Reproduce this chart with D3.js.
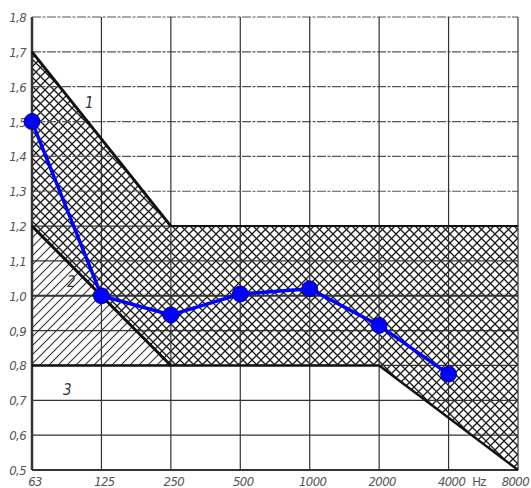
<!DOCTYPE html>
<html>
<head>
<meta charset="utf-8">
<script src="https://cdn.jsdelivr.net/npm/d3@7"></script>
<style>
  html, body { margin: 0; padding: 0; background: #fff; }
  svg { display: block; }
  .tick-label { font-family: "DejaVu Sans Condensed", "DejaVu Sans", sans-serif; font-style: italic; font-size: 13px; fill: #555; letter-spacing: -0.6px; }
  .curve-label { font-family: "DejaVu Sans Condensed", "DejaVu Sans", sans-serif; font-style: italic; font-size: 15px; fill: #333; }
</style>
</head>
<body>
<svg id="chart" width="531" height="488"></svg>
<script>
// Octave-band centre frequencies (Hz)
const frequencies = ["63", "125", "250", "500", "1000", "2000", "4000", "8000"];
// Vertical axis ticks
const yTicks = [0.5, 0.6, 0.7, 0.8, 0.9, 1.0, 1.1, 1.2, 1.3, 1.4, 1.5, 1.6, 1.7, 1.8];

// Measured curve
const measuredFreqs = ["63", "125", "250", "500", "1000", "2000", "4000"];
const measuredValues = [1.50, 1.00, 0.945, 1.005, 1.02, 0.915, 0.775];

// Boundary 1 (upper limit)
const upperFreqs = ["63", "250", "8000"];
const upperValues = [1.7, 1.2, 1.2];
// Boundary 2 (lower limit of the tolerance band)
const lowerFreqs = ["63", "250", "2000", "8000"];
const lowerValues = [1.2, 0.8, 0.8, 0.5];
// Boundary 3 (horizontal limit)
const line3Freqs = ["63", "2000"];
const line3Values = [0.8, 0.8];

const svg = d3.select("#chart");
const x = d3.scalePoint().domain(frequencies).range([32, 518]);
const y = d3.scaleLinear().domain([0.5, 1.8]).range([470, 17]);

const defs = svg.append("defs");
// Cross hatching
const cross = defs.append("pattern").attr("id", "cross").attr("patternUnits", "userSpaceOnUse")
  .attr("width", 9).attr("height", 9);
cross.append("path").attr("d", "M-2,2 L2,-2 M0,9 L9,0 M7,11 L11,7").attr("stroke", "#1a1a1a").attr("stroke-width", 1.3);
cross.append("path").attr("d", "M-2,7 L2,11 M0,0 L9,9 M7,-2 L11,2").attr("stroke", "#1a1a1a").attr("stroke-width", 1.3);
// Single diagonal hatching
const single = defs.append("pattern").attr("id", "single").attr("patternUnits", "userSpaceOnUse")
  .attr("width", 9).attr("height", 9);
single.append("path").attr("d", "M-2,2 L2,-2 M0,9 L9,0 M7,11 L11,7").attr("stroke", "#333").attr("stroke-width", 1.1);

const pts = (fs, vs) => fs.map((f, i) => [x(f), y(vs[i])]);
const line = d3.line();

// Hatched regions
const upperPts = pts(upperFreqs, upperValues);
const lowerPts = pts(lowerFreqs, lowerValues);
svg.append("path")
  .attr("d", line(upperPts.concat(lowerPts.slice().reverse())) + "Z")
  .attr("fill", "url(#cross)");
svg.append("path")
  .attr("d", line([lowerPts[0], lowerPts[1], [x("63"), y(0.8)]]) + "Z")
  .attr("fill", "url(#single)");

// Grid
const grid = svg.append("g");
grid.selectAll("line.h").data(yTicks).join("line")
  .attr("x1", x("63")).attr("x2", x("8000"))
  .attr("y1", d => y(d)).attr("y2", d => y(d))
  .attr("stroke", d => d >= 1.3 ? "#555" : "#333")
  .attr("stroke-width", d => (d === 1.0 || d === 0.5) ? 2 : 1.2)
  .attr("stroke-dasharray", d => d >= 1.3 ? "9,1.5,3,1.5" : null);
grid.selectAll("line.v").data(frequencies).join("line")
  .attr("x1", d => x(d)).attr("x2", d => x(d))
  .attr("y1", y(1.8)).attr("y2", y(0.5))
  .attr("stroke", "#333").attr("stroke-width", d => d === "63" ? 2.5 : 1.2);

// Boundary lines
svg.append("path").attr("d", line(upperPts.slice(0, 2))).attr("fill", "none").attr("stroke", "#111").attr("stroke-width", 3);
svg.append("path").attr("d", line(upperPts.slice(1))).attr("fill", "none").attr("stroke", "#111").attr("stroke-width", 2);
svg.append("path").attr("d", line(lowerPts.slice(0, 2))).attr("fill", "none").attr("stroke", "#111").attr("stroke-width", 3);
svg.append("path").attr("d", line(lowerPts.slice(2))).attr("fill", "none").attr("stroke", "#111").attr("stroke-width", 2.5);
svg.append("path").attr("d", line(pts(line3Freqs, line3Values))).attr("fill", "none").attr("stroke", "#111").attr("stroke-width", 2.5);

// Curve numbers
svg.append("text").attr("class", "curve-label").attr("x", x("63") + 53).attr("y", y(1.54)).text("1");
svg.append("text").attr("class", "curve-label").attr("x", x("63") + 35).attr("y", y(1.025)).text("2");
svg.append("text").attr("class", "curve-label").attr("x", x("63") + 31).attr("y", y(0.715)).text("3");

// Axis labels
svg.selectAll("text.ylab").data(yTicks).join("text")
  .attr("class", "tick-label")
  .attr("x", 26).attr("y", d => y(d) + 5)
  .attr("text-anchor", "end")
  .text(d => d3.format(".1f")(d).replace(".", ","));
svg.selectAll("text.xlab").data(frequencies).join("text")
  .attr("class", "tick-label")
  .attr("x", d => d === "8000" ? 529 : x(d) + 3).attr("y", 486)
  .attr("text-anchor", d => d === "8000" ? "end" : "middle")
  .text(d => d);
svg.append("text").attr("class", "tick-label").style("font-style", "normal")
  .attr("x", 479).attr("y", 486).attr("text-anchor", "middle").text("Hz");

// Measured curve
const measuredPts = pts(measuredFreqs, measuredValues);
svg.append("path").attr("d", line(measuredPts)).attr("fill", "none")
  .attr("stroke", "#0000ff").attr("stroke-width", 3.5);
svg.selectAll("circle.pt").data(measuredPts).join("circle")
  .attr("cx", d => d[0]).attr("cy", d => d[1]).attr("r", 8)
  .attr("fill", "#0000ff").attr("stroke", "#000060").attr("stroke-width", 0.8);
</script>
</body>
</html>
